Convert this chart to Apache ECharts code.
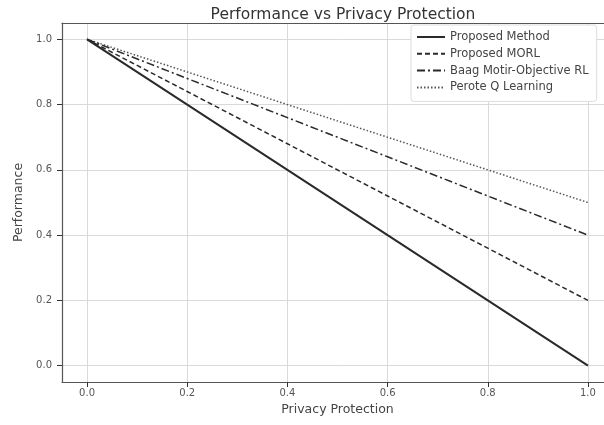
<!DOCTYPE html>
<html><head><meta charset="utf-8">
<script src="https://cdn.jsdelivr.net/npm/echarts@6/dist/echarts.min.js"></script>
<style>html,body{margin:0;padding:0;background:#fff;overflow:hidden}#c{width:620px;height:425px}</style>
</head><body><div id="c"></div>
<script>
const privacy = [0.0, 0.2, 0.4, 0.6, 0.8, 1.0];
const proposedMethod = [1.0, 0.8, 0.6, 0.4, 0.2, 0.0];
const proposedMORL = [1.0, 0.84, 0.68, 0.52, 0.36, 0.2];
const baagMORL = [1.0, 0.88, 0.76, 0.64, 0.52, 0.4];
const peroteQ = [1.0, 0.9, 0.8, 0.7, 0.6, 0.5];
const seriesNames = ['Proposed Method', 'Proposed MORL', 'Baag Motir-Objective RL', 'Perote Q Learning'];
const tickValues = [0.0, 0.2, 0.4, 0.6, 0.8, 1.0];

const chart = echarts.init(document.getElementById('c'), null, {renderer: 'canvas'});
const pair = arr => privacy.map((x, i) => [x, arr[i]]);
const styles = [
  {type: 'solid', width: 2, color: '#2a2a2a'},
  {type: [5, 3], width: 1.5, color: '#2a2a2a'},
  {type: [8, 3, 2, 3], width: 1.5, color: '#2a2a2a'},
  {type: [1.5, 2], width: 1.5, color: '#555'}
];
const datas = [proposedMethod, proposedMORL, baagMORL, peroteQ];
const frameLine = {show: true, onZero: false, lineStyle: {color: '#555', width: 1.2}};
const tickStyle = {show: true, length: 5, inside: false, customValues: tickValues, lineStyle: {color: '#333', width: 1}};
const axisCommon = {
  type: 'value', min: -0.05, max: 1.05,
  axisLine: frameLine,
  axisTick: tickStyle,
  axisLabel: {customValues: tickValues, formatter: v => v.toFixed(1), color: '#555', fontSize: 10, fontFamily: 'DejaVu Sans', margin: 6},
  splitLine: {show: true, lineStyle: {color: '#d9d9d9', width: 1}},
  nameLocation: 'middle',
  nameTextStyle: {color: '#444', fontSize: 12.5, fontFamily: 'DejaVu Sans'}
};
chart.setOption({
  animation: false,
  backgroundColor: '#fff',
  title: {
    text: 'Performance vs Privacy Protection', left: 338, top: 2, textAlign: 'center',
    textStyle: {color: '#333', fontSize: 15.5, fontWeight: 'normal', fontFamily: 'DejaVu Sans'}
  },
  grid: {left: 62, top: 23, width: 551, height: 359, show: false, outerBoundsMode: 'none', containLabel: false},
  xAxis: [
    Object.assign({}, axisCommon, {name: 'Privacy Protection', nameGap: 20, position: 'bottom'}),
    {type: 'value', min: -0.05, max: 1.05, position: 'top', axisLine: frameLine,
     axisTick: {show: false}, axisLabel: {show: false}, splitLine: {show: false}}
  ],
  yAxis: Object.assign({}, axisCommon, {name: 'Performance', nameGap: 35, position: 'left',
    axisLabel: Object.assign({}, axisCommon.axisLabel, {margin: 10})}),
  legend: {
    orient: 'vertical', left: 411, top: 25, itemWidth: 28, itemHeight: 12, itemGap: 4.8,
    padding: [6, 8, 8, 5], backgroundColor: '#fff', borderColor: '#ddd', borderWidth: 1, borderRadius: 3,
    itemStyle: {opacity: 0},
    textStyle: {color: '#444', fontSize: 11.5, fontFamily: 'DejaVu Sans'},
    data: seriesNames
  },
  series: seriesNames.map((n, i) => ({
    name: n, type: 'line', data: pair(datas[i]), symbol: 'none', showSymbol: false,
    xAxisIndex: 0, yAxisIndex: 0,
    lineStyle: styles[i], itemStyle: {color: styles[i].color}, z: 5 - i
  }))
});
</script></body></html>
